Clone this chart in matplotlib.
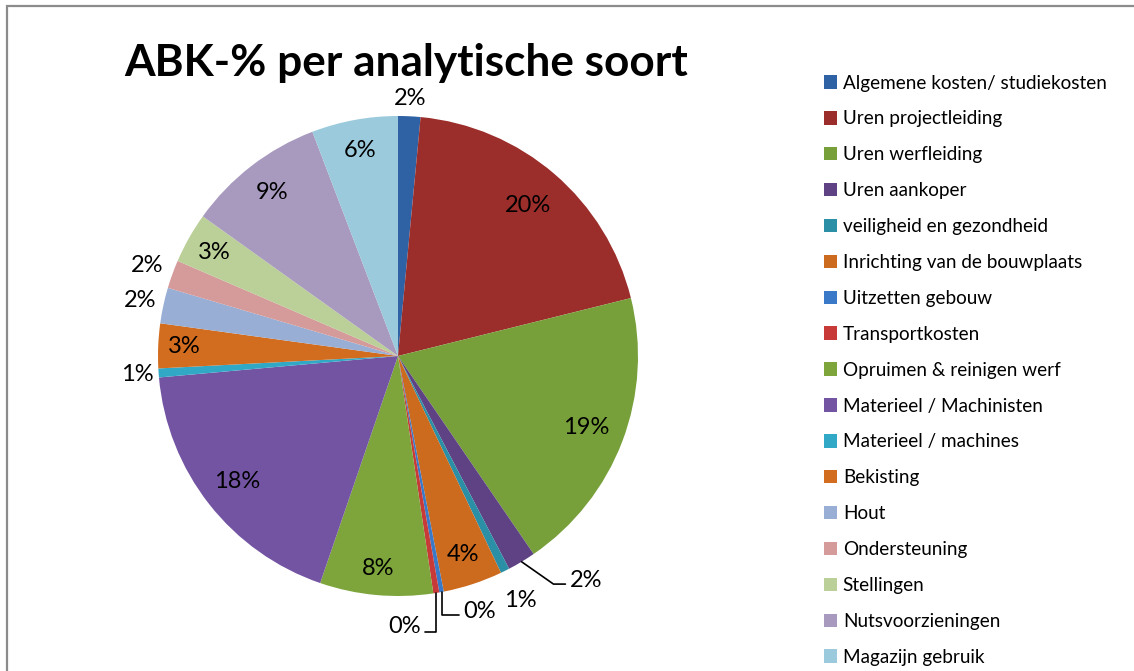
import numpy as np
import matplotlib
matplotlib.use("Agg")
import matplotlib.pyplot as plt
from matplotlib.patches import Rectangle

plt.rcParams["font.family"] = ["Lato", "DejaVu Sans"]

# --- data (share per analytic type, %) ---
categories = [
    "Algemene kosten/ studiekosten", "Uren projectleiding", "Uren werfleiding",
    "Uren aankoper", "veiligheid en gezondheid", "Inrichting van de bouwplaats",
    "Uitzetten gebouw", "Transportkosten", "Opruimen & reinigen werf",
    "Materieel / Machinisten", "Materieel / machines", "Bekisting", "Hout",
    "Ondersteuning", "Stellingen", "Nutsvoorzieningen", "Magazijn gebruik",
]
shares = [1.5, 19.6, 19.3, 1.9, 0.6, 4.0, 0.3, 0.4, 7.6, 18.3, 0.6, 3.0, 2.4, 1.9, 3.4, 9.3, 5.8]
labels = ["2%", "20%", "19%", "2%", "1%", "4%", "0%", "0%", "8%", "18%",
          "1%", "3%", "2%", "2%", "3%", "9%", "6%"]

colors = ["#2F62A5", "#9B2D2A", "#77A03A", "#5E4283", "#2B8FA6", "#CC6A1E",
          "#3A78C8", "#C83A38", "#7DA53C", "#7354A3", "#31A9C6", "#D26C1E",
          "#98AED4", "#D59A9A", "#BBCF98", "#A899BE", "#9ACADB"]

# label radius (fraction of pie radius); None -> label with leader line
label_r = [1.075, 0.83, 0.84, None, 1.14, 0.87, None, None, 0.89, 0.85,
           1.09, 0.89, 1.10, 1.11, 0.88, 0.86, 0.87]
# leader-line labels: (offset from wedge edge, alignment, connection)
leaders = {
    3: ((0.20, -0.08), "left", "angle,angleA=0,angleB=-35,rad=0", (0, 0.35)),
    6: ((0.09, -0.08), "left", "angle,angleA=0,angleB=90,rad=0", (0, 0.3)),
    7: ((-0.065, -0.14), "right", "angle,angleA=0,angleB=90,rad=0", (1, 0.25)),
}

# --- figure ---
fig = plt.figure(figsize=(11.34, 6.71), dpi=100)
fig.patches.append(Rectangle((7 / 1134, -0.1), 1.2, (671 - 6) / 671 + 0.1,
                             transform=fig.transFigure, fill=False,
                             edgecolor="#8C8C8C", linewidth=1.6))

R_PX = 243
ax = fig.add_axes([(398 - 300) / 1134, (671 - 356 - 300) / 671, 600 / 1134, 600 / 671])
lim = 300 / R_PX
ax.set_xlim(-lim, lim)
ax.set_ylim(-lim, lim)
ax.set_aspect("equal")
ax.axis("off")

wedges, _ = ax.pie(shares, colors=colors, startangle=90, counterclock=False,
                   radius=1.0, wedgeprops=dict(linewidth=0))

for i, w in enumerate(wedges):
    mid = np.deg2rad((w.theta1 + w.theta2) / 2)
    if label_r[i] is not None:
        r = label_r[i]
        ax.text(r * np.cos(mid), r * np.sin(mid), labels[i], fontsize=17,
                ha="center", va="center", color="black")
    else:
        off, ha, conn, rel = leaders[i]
        ex, ey = np.cos(mid), np.sin(mid)
        ax.annotate(labels[i], xy=(ex, ey), xytext=(ex + off[0], ey + off[1]),
                    fontsize=17, ha=ha, va="center",
                    arrowprops=dict(arrowstyle="-", color="black", lw=1.2,
                                    connectionstyle=conn, shrinkA=1, shrinkB=0,
                                    relpos=rel))

fig.text(406 / 1134, 1 - 63 / 671, "ABK-% per analytische soort", fontsize=31.8,
         fontweight="bold", ha="center", va="center")

fig.legend(wedges, categories, loc="upper left",
           bbox_to_anchor=(816 / 1134, 1 - 67 / 671), frameon=False,
           fontsize=13.6, handlelength=0.72, handleheight=0.72, handletextpad=0.3,
           labelspacing=1.0, borderaxespad=0)

fig.savefig("out.png", dpi=100)
